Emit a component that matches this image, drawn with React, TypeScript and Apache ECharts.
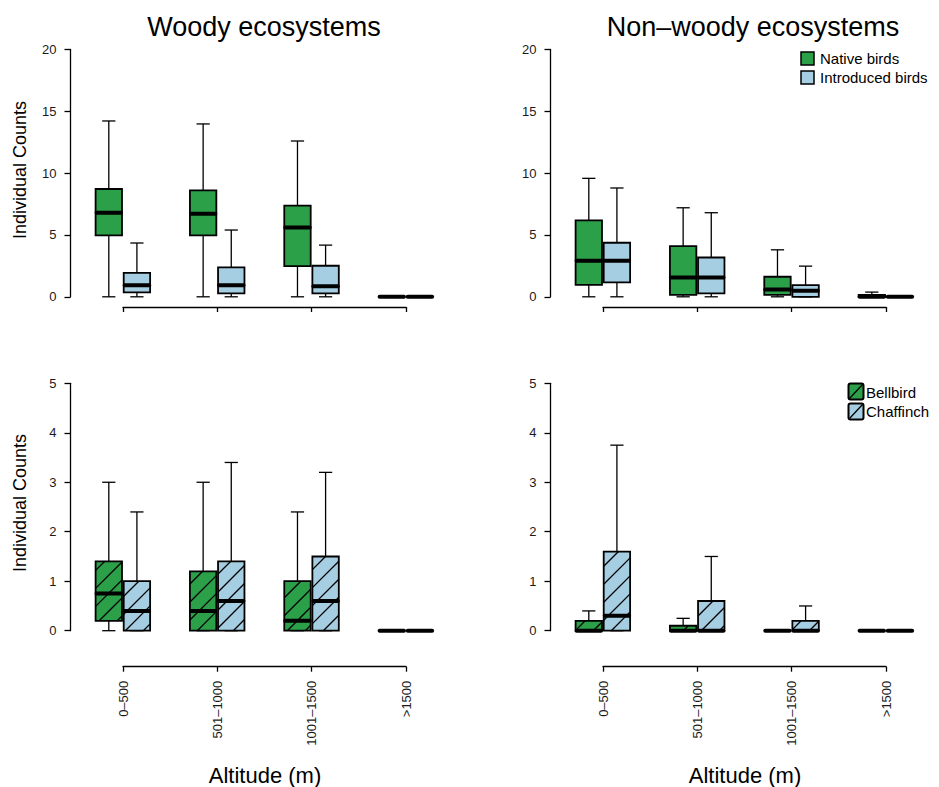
import React, { useEffect, useRef } from "react";
import * as echarts from "echarts";

// ---- data (five-number summaries: [min, Q1, median, Q3, max]) ----
const categories = ["0–500", "501–1000", "1001–1500", ">1500"];

const woodyNative = [
  [0, 4.97, 6.8, 8.72, 14.22],
  [0, 4.97, 6.72, 8.6, 13.98],
  [0, 2.48, 5.61, 7.37, 12.6],
  [0, 0, 0, 0, 0],
];
const woodyIntroduced = [
  [0, 0.35, 0.94, 1.94, 4.35],
  [0, 0.27, 0.94, 2.38, 5.4],
  [0, 0.27, 0.86, 2.51, 4.18],
  [0, 0, 0, 0, 0],
];
const nonWoodyNative = [
  [0, 0.97, 2.91, 6.18, 9.58],
  [0, 0.16, 1.57, 4.1, 7.2],
  [0, 0.16, 0.6, 1.62, 3.8],
  [0, 0, 0, 0.16, 0.38],
];
const nonWoodyIntroduced = [
  [0, 1.16, 2.91, 4.37, 8.8],
  [0, 0.27, 1.57, 3.18, 6.8],
  [0, 0, 0.49, 0.94, 2.48],
  [0, 0, 0, 0, 0],
];
const woodyBellbird = [
  [0, 0.2, 0.75, 1.4, 3.0],
  [0, 0, 0.4, 1.2, 3.0],
  [0, 0, 0.2, 1.0, 2.4],
  [0, 0, 0, 0, 0],
];
const woodyChaffinch = [
  [0, 0, 0.4, 1.0, 2.4],
  [0, 0, 0.6, 1.4, 3.4],
  [0, 0, 0.6, 1.5, 3.2],
  [0, 0, 0, 0, 0],
];
const nonWoodyBellbird = [
  [0, 0, 0, 0.2, 0.4],
  [0, 0, 0, 0.1, 0.25],
  [0, 0, 0, 0, 0],
  [0, 0, 0, 0, 0],
];
const nonWoodyChaffinch = [
  [0, 0, 0.3, 1.6, 3.75],
  [0, 0, 0, 0.6, 1.5],
  [0, 0, 0, 0.2, 0.5],
  [0, 0, 0, 0, 0],
];

const topTicks = [0, 5, 10, 15, 20];
const bottomTicks = [0, 1, 2, 3, 4, 5];

const GREEN = "#2ca048";
const BLUE = "#a6cee3";
const FONT = "Liberation Sans, Arial, Helvetica, sans-serif";

const OFFSET = 0.149;
const BOX_W = 0.28;
const HATCH = 18;

function makeRender(side: number, fill: string, hatch: boolean) {
  return (params: any, api: any) => {
    const xv = api.value(0) + side * OFFSET;
    const c = (v: number) => api.coord([xv, v]);
    const [cx, yMin] = c(api.value(1));
    const yQ1 = c(api.value(2))[1];
    const yMed = c(api.value(3))[1];
    const yQ3 = c(api.value(4))[1];
    const yMax = c(api.value(5))[1];
    const w = api.size([BOX_W, 0])[0];
    const x0 = cx - w / 2;
    const x1 = cx + w / 2;
    const thin = { stroke: "#000", lineWidth: 1.3 };
    const children: any[] = [];
    children.push({ type: "line", shape: { x1: cx, y1: yQ3, x2: cx, y2: yMax }, style: thin });
    children.push({ type: "line", shape: { x1: cx, y1: yQ1, x2: cx, y2: yMin }, style: thin });
    children.push({ type: "line", shape: { x1: cx - w / 4, y1: yMax, x2: cx + w / 4, y2: yMax }, style: thin });
    children.push({ type: "line", shape: { x1: cx - w / 4, y1: yMin, x2: cx + w / 4, y2: yMin }, style: thin });
    const top = Math.min(yQ3, yQ1);
    const bot = Math.max(yQ3, yQ1);
    children.push({ type: "rect", shape: { x: x0, y: top, width: w, height: bot - top }, style: { fill, stroke: null } });
    if (hatch && bot - top > 0.5) {
      const kStart = Math.ceil((x0 + top) / HATCH);
      const kEnd = Math.floor((x1 + bot) / HATCH);
      for (let k = kStart; k <= kEnd; k++) {
        const cc = k * HATCH;
        const xa = Math.max(x0, cc - bot);
        const xb = Math.min(x1, cc - top);
        if (xb - xa > 0.3) {
          children.push({
            type: "line",
            shape: { x1: xa, y1: cc - xa, x2: xb, y2: cc - xb },
            style: { stroke: "#000", lineWidth: 1.3 },
          });
        }
      }
    }
    children.push({ type: "rect", shape: { x: x0, y: top, width: w, height: bot - top }, style: { fill: "none", stroke: "#000", lineWidth: 1.8 } });
    children.push({ type: "line", shape: { x1: x0 + 1, y1: yMed, x2: x1 - 1, y2: yMed }, style: { stroke: "#000", lineWidth: 4, lineCap: "round" } });
    return { type: "group", children };
  };
}

const toData = (arr: number[][]) => arr.map((s, i) => [i + 1, ...s]);

export default function App() {
  const ref = useRef<HTMLDivElement>(null);
  useEffect(() => {
    if (!ref.current) return;
    const chart = echarts.init(ref.current, null, { renderer: "svg" });

    const mainLeft = [70.5, 550.5, 70.5, 550.5];
    const mainTop = [49.5, 49.5, 383.3, 383.3];
    const mainH = [247.3, 247.3, 247.4, 247.4];
    const lineLeft = [123, 603, 123, 603];
    const lineTop = [297, 297, 630.7, 630.7];
    const lineH = [10, 10, 36, 36];

    const grids: any[] = [];
    const xAxes: any[] = [];
    const yAxes: any[] = [];
    for (let i = 0; i < 4; i++) {
      grids.push({ left: mainLeft[i], top: mainTop[i], width: 380, height: mainH[i] });
      xAxes.push({ type: "value", gridIndex: i, min: 0.445, max: 4.473, show: false });
      const ticks = i < 2 ? topTicks : bottomTicks;
      yAxes.push({
        type: "value",
        gridIndex: i,
        min: ticks[0],
        max: ticks[ticks.length - 1],
        interval: ticks[1] - ticks[0],
        splitLine: { show: false },
        axisLine: { show: true, lineStyle: { color: "#000", width: 1.3 } },
        axisTick: { show: true, length: 6, lineStyle: { color: "#000", width: 1.3 } },
        axisLabel: { fontSize: 13, color: "#1a1a1a", margin: 14, fontFamily: FONT },
      });
    }
    for (let i = 0; i < 4; i++) {
      grids.push({ left: lineLeft[i], top: lineTop[i], width: 283, height: lineH[i] });
      xAxes.push({
        type: "category",
        gridIndex: 4 + i,
        data: categories,
        boundaryGap: false,
        axisLine: { show: true, lineStyle: { color: "#000", width: 1.3 } },
        axisTick: { show: true, length: 5, alignWithLabel: true, lineStyle: { color: "#000", width: 1.3 } },
        axisLabel: {
          show: i >= 2,
          rotate: 90,
          fontSize: 13,
          color: "#1a1a1a",
          margin: 14,
          fontFamily: FONT,
          interval: 0,
        },
        splitLine: { show: false },
      });
      yAxes.push({ type: "value", gridIndex: 4 + i, show: false, min: 0, max: 1 });
    }

    const panels = [
      [woodyNative, woodyIntroduced, false],
      [nonWoodyNative, nonWoodyIntroduced, false],
      [woodyBellbird, woodyChaffinch, true],
      [nonWoodyBellbird, nonWoodyChaffinch, true],
    ] as [number[][], number[][], boolean][];

    const series: any[] = [];
    panels.forEach(([a, b, hatch], i) => {
      series.push({
        type: "custom",
        name: i < 2 ? "Native birds" : "Bellbird",
        xAxisIndex: i,
        yAxisIndex: i,
        data: toData(a),
        encode: { x: 0, y: [1, 2, 3, 4, 5] },
        renderItem: makeRender(-1, GREEN, hatch),
        clip: false,
      });
      series.push({
        type: "custom",
        name: i < 2 ? "Introduced birds" : "Chaffinch",
        xAxisIndex: i,
        yAxisIndex: i,
        data: toData(b),
        encode: { x: 0, y: [1, 2, 3, 4, 5] },
        renderItem: makeRender(1, BLUE, hatch),
        clip: false,
      });
    });

    const txt = (text: string, x: number, y: number, size: number, rot = 0, align = "center") => ({
      type: "text",
      x,
      y,
      rotation: rot,
      style: { text, fontSize: size, fontFamily: FONT, fill: "#000", textAlign: align, textVerticalAlign: "middle" },
    });

    const graphic: any[] = [
      txt("Woody ecosystems", 264, 27, 27),
      txt("Non–woody ecosystems", 753, 27, 27),
      txt("Individual Counts", 20, 170, 18, Math.PI / 2),
      txt("Individual Counts", 20, 503, 18, Math.PI / 2),
      txt("Altitude (m)", 265, 775, 22),
      txt("Altitude (m)", 745, 775, 22),
      // legend top-right
      { type: "rect", shape: { x: 801, y: 52, width: 13, height: 13 }, style: { fill: GREEN, stroke: "#000", lineWidth: 1.5 } },
      { type: "rect", shape: { x: 801, y: 71, width: 13, height: 13 }, style: { fill: BLUE, stroke: "#000", lineWidth: 1.5 } },
      txt("Native birds", 820, 58.5, 15, 0, "left"),
      txt("Introduced birds", 820, 77.5, 15, 0, "left"),
      // legend bottom-right
      { type: "rect", shape: { x: 848.5, y: 383.5, width: 15, height: 16, r: 2 }, style: { fill: GREEN, stroke: "#000", lineWidth: 2 } },
      { type: "line", shape: { x1: 849.5, y1: 398.5, x2: 862.5, y2: 384.5 }, style: { stroke: "#000", lineWidth: 1.3 } },
      { type: "rect", shape: { x: 848.5, y: 403.5, width: 15, height: 16, r: 2 }, style: { fill: BLUE, stroke: "#000", lineWidth: 2 } },
      { type: "line", shape: { x1: 849.5, y1: 418.5, x2: 862.5, y2: 404.5 }, style: { stroke: "#000", lineWidth: 1.3 } },
      txt("Bellbird", 866, 392, 15, 0, "left"),
      txt("Chaffinch", 866, 411, 15, 0, "left"),
    ];

    chart.setOption({
      animation: false,
      backgroundColor: "#fff",
      grid: grids,
      xAxis: xAxes,
      yAxis: yAxes,
      series,
      graphic,
    });
    return () => chart.dispose();
  }, []);
  return <div ref={ref} style={{ position: "absolute", left: 0, top: 0, width: 939, height: 787 }} />;
}
